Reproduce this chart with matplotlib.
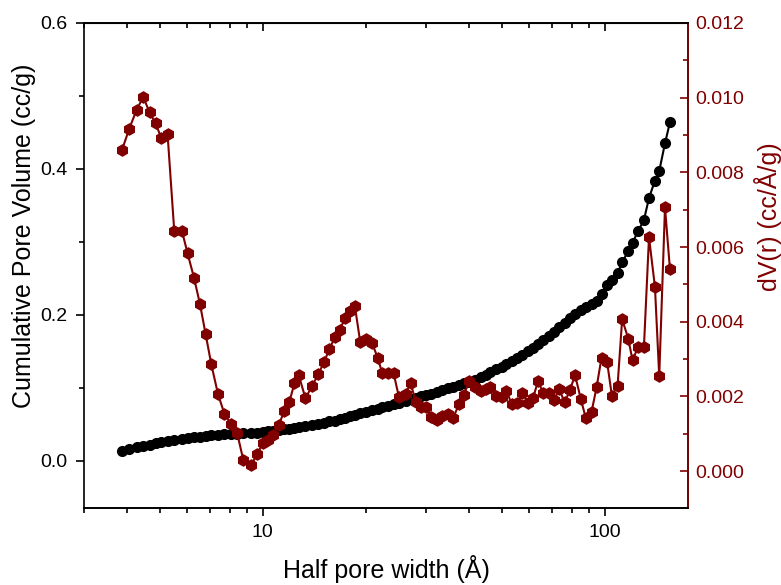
#%%
import matplotlib
matplotlib.use("Agg")
import matplotlib.pyplot as plt
from matplotlib.ticker import MultipleLocator, LogLocator, NullFormatter, FuncFormatter

plt.rcParams['font.family'] = ['Liberation Sans', 'DejaVu Sans']

#%%
# half pore width (A), shared by both series
width = [3.870, 4.065, 4.272, 4.469, 4.662, 4.855, 5.044, 5.263, 5.506, 5.800,
         6.024, 6.289, 6.549, 6.801, 7.067, 7.393, 7.715, 8.071, 8.405, 8.769,
         9.236, 9.636, 9.99, 10.33, 10.68, 11.12, 11.56, 11.96, 12.37, 12.73,
         13.32, 13.93, 14.54, 15.11, 15.66, 16.23, 16.79, 17.41, 17.92, 18.57,
         19.26, 20.06, 20.88, 21.69, 22.34, 23.20, 24.11, 24.99, 26.14, 27.04,
         27.97, 29.06, 30.06, 31.09, 32.29, 33.48, 34.77, 35.96, 37.44, 38.78,
         40.05, 41.62, 43.55, 44.89, 46.28, 48.17, 50.04, 51.55, 53.42, 55.51,
         57.41, 59.62, 61.66, 63.78, 65.96, 68.55, 71.04, 73.49, 76.36, 78.98,
         81.85, 85.06, 88.00, 91.44, 94.56, 97.80, 101.56, 104.83, 108.93, 112.35,
         117.0, 120.5, 125.2, 130.1, 134.6, 140.1, 144.2, 149.9, 155.0]

# cumulative pore volume (cc/g)
cum_vol = [0.0135, 0.016, 0.018, 0.020, 0.022, 0.024, 0.0255, 0.027, 0.0285, 0.030,
           0.031, 0.032, 0.033, 0.034, 0.035, 0.0355, 0.036, 0.0365, 0.037, 0.0375,
           0.038, 0.0385, 0.039, 0.040, 0.041, 0.042, 0.043, 0.044, 0.045, 0.046,
           0.047, 0.049, 0.050, 0.052, 0.054, 0.055, 0.057, 0.059, 0.061, 0.063,
           0.065, 0.067, 0.069, 0.071, 0.073, 0.075, 0.077, 0.079, 0.082, 0.084,
           0.086, 0.088, 0.090, 0.092, 0.094, 0.097, 0.099, 0.101, 0.103, 0.106,
           0.108, 0.111, 0.115, 0.118, 0.121, 0.125, 0.129, 0.132, 0.136, 0.141,
           0.145, 0.150, 0.155, 0.160, 0.165, 0.171, 0.177, 0.183, 0.189, 0.195,
           0.201, 0.207, 0.211, 0.215, 0.219, 0.229, 0.241, 0.248, 0.257, 0.272,
           0.287, 0.299, 0.315, 0.330, 0.360, 0.384, 0.397, 0.435, 0.464]

# dV(r) (cc/A/g)
dv = [0.00859, 0.00916, 0.00967, 0.01002, 0.00961, 0.00931, 0.00893, 0.00904, 0.00644, 0.00643,
      0.00583, 0.00518, 0.00447, 0.00367, 0.00286, 0.00206, 0.00154, 0.00126, 0.00103, 0.00029,
      0.00016, 0.00046, 0.00074, 0.00084, 0.00096, 0.00123, 0.00161, 0.00186, 0.00235, 0.00257,
      0.00195, 0.00228, 0.00260, 0.00293, 0.00327, 0.00358, 0.00379, 0.00410, 0.00429, 0.00443,
      0.00346, 0.00353, 0.00342, 0.00302, 0.00262, 0.00262, 0.00262, 0.00199, 0.00206, 0.00236,
      0.00186, 0.00172, 0.00171, 0.00144, 0.00138, 0.00147, 0.00153, 0.00141, 0.00179, 0.00205,
      0.00241, 0.00224, 0.00215, 0.00220, 0.00224, 0.00201, 0.00199, 0.00215, 0.00179, 0.00181,
      0.00210, 0.00183, 0.00195, 0.00242, 0.00210, 0.00210, 0.00190, 0.00219, 0.00184, 0.00217,
      0.00256, 0.00193, 0.00141, 0.00159, 0.00224, 0.00304, 0.00291, 0.00202, 0.00228, 0.00407,
      0.00355, 0.00297, 0.00333, 0.00333, 0.00626, 0.00493, 0.00254, 0.00706, 0.00540]

red = '#800000'

#%%
fig = plt.figure(figsize=(7.81, 5.85), dpi=100)
ax = fig.add_axes([0.1076, 0.1322, 0.7733, 0.8285])
ax2 = ax.twinx()

ax.plot(width, cum_vol, 'o-', color='black', markersize=7, linewidth=1.5, zorder=3)
ax2.plot(width, dv, 'h-', color=red, markersize=8, linewidth=1.5)

ax.set_xscale('log')
ax.set_xlim(3, 175)
ax.set_ylim(-0.0645, 0.6)
ax2.set_ylim(-0.00098, 0.012)

ax.xaxis.set_major_locator(LogLocator(base=10))
ax.xaxis.set_major_formatter(FuncFormatter(lambda v, p: f'{v:g}'))
ax.xaxis.set_minor_locator(LogLocator(base=10, subs=range(2, 10)))
ax.xaxis.set_minor_formatter(NullFormatter())
ax.yaxis.set_major_locator(MultipleLocator(0.2))
ax.yaxis.set_minor_locator(MultipleLocator(0.1))
ax2.yaxis.set_major_locator(MultipleLocator(0.002))
ax2.yaxis.set_minor_locator(MultipleLocator(0.001))

ax.tick_params(which='major', direction='out', length=6, width=1.2, pad=6, labelsize=14)
ax.tick_params(which='minor', direction='out', length=3.5, width=1.2)
# right axis ticks point inward
ax2.tick_params(which='major', direction='in', length=6, width=1.2, pad=5, labelsize=14,
                colors=red)
ax2.tick_params(which='minor', direction='in', length=3.5, width=1.2, colors=red)

# inward ticks on top edge, no labels
top = ax.secondary_xaxis('top')
top.tick_params(which='major', direction='in', length=6, width=1.2, labeltop=False)
top.tick_params(which='minor', direction='in', length=3.5, width=1.2)
top.xaxis.set_minor_formatter(NullFormatter())

for s in ax.spines.values():
    s.set_linewidth(1.2)
for s in ax2.spines.values():
    s.set_linewidth(1.2)
ax2.spines['right'].set_color(red)
ax2.spines['left'].set_visible(False)

ax.set_xlabel('Half pore width (Å)', fontsize=18, labelpad=10)
ax.set_ylabel('Cumulative Pore Volume (cc/g)', fontsize=18)
ax2.set_ylabel('dV(r) (cc/Å/g)', fontsize=18, color=red)
ax.yaxis.set_label_coords(-0.08, 0.56)
ax2.yaxis.set_label_coords(1.11, 0.60)

fig.savefig('out.png', dpi=100)
